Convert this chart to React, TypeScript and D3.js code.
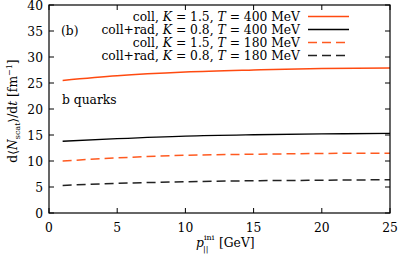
import React from 'react'
import * as d3 from 'd3'

const width = 399
const height = 255
const margin = { top: 5, right: 9, bottom: 42, left: 49 }

const pIni = [1, 5, 10, 15, 20, 25]
const collK15T400 = [25.5, 26.4, 27.1, 27.5, 27.8, 27.9]
const radK08T400 = [13.8, 14.3, 14.8, 15.05, 15.2, 15.3]
const collK15T180 = [10.0, 10.6, 11.1, 11.3, 11.45, 11.5]
const radK08T180 = [5.3, 5.7, 6.0, 6.2, 6.3, 6.4]

const xTicks = [0, 5, 10, 15, 20, 25]
const yTicks = [0, 5, 10, 15, 20, 25, 30, 35, 40]

const series = [
    { K: '1.5', T: '400', label: 'coll', values: collK15T400, color: '#ff4a10', dash: null, w: 1.5 },
    { K: '0.8', T: '400', label: 'coll+rad', values: radK08T400, color: '#000000', dash: null, w: 1.3 },
    { K: '1.5', T: '180', label: 'coll', values: collK15T180, color: '#ff5a20', dash: '9,5', w: 1.5 },
    { K: '0.8', T: '180', label: 'coll+rad', values: radK08T180, color: '#222222', dash: '9,5', w: 1.5 },
]

const font = 'DejaVu Serif, serif'
const fs = 12.3

export default function App() {
    const xScale = d3
        .scaleLinear()
        .domain([0, 25])
        .range([margin.left, width - margin.right])
    const yScale = d3
        .scaleLinear()
        .domain([0, 40])
        .range([height - margin.bottom, margin.top])

    const line = d3
        .line<[number, number]>()
        .x((d) => xScale(d[0]))
        .y((d) => yScale(d[1]))
        .curve(d3.curveMonotoneX)

    const x0 = margin.left
    const x1 = width - margin.right
    const y0 = height - margin.bottom
    const y1 = margin.top
    const tick = 5

    return (
        <svg
            width={width}
            height={height}
            style={{ position: 'absolute', left: 0, top: 0, fontFamily: font }}
        >
            <rect width={width} height={height} fill="#fff" />
            {series.map((s, i) => (
                <path
                    key={i}
                    d={line(pIni.map((p, j) => [p, s.values[j]] as [number, number])) || ''}
                    fill="none"
                    stroke={s.color}
                    strokeWidth={s.w}
                    strokeDasharray={s.dash || undefined}
                />
            ))}
            {/* frame */}
            <rect x={x0} y={y1} width={x1 - x0} height={y0 - y1} fill="none" stroke="#000" strokeWidth={1.2} />
            {xTicks.map((t) => (
                <g key={'x' + t}>
                    <line x1={xScale(t)} x2={xScale(t)} y1={y0} y2={y0 - tick} stroke="#000" />
                    <line x1={xScale(t)} x2={xScale(t)} y1={y1} y2={y1 + tick} stroke="#000" />
                    <text x={xScale(t)} y={y0 + 19} textAnchor="middle" fontSize={fs}>
                        {t}
                    </text>
                </g>
            ))}
            {yTicks.map((t) => (
                <g key={'y' + t}>
                    <line x1={x0} x2={x0 + tick} y1={yScale(t)} y2={yScale(t)} stroke="#000" />
                    <line x1={x1} x2={x1 - tick} y1={yScale(t)} y2={yScale(t)} stroke="#000" />
                    <text x={x0 - 6} y={yScale(t) + 4.5} textAnchor="end" fontSize={fs}>
                        {t}
                    </text>
                </g>
            ))}
            {/* legend */}
            {series.map((s, i) => {
                const y = 16.5 + i * 13
                return (
                    <g key={'l' + i}>
                        <text x={300} y={y + 4} textAnchor="end" fontSize={fs}>
                            {s.label}, <tspan fontStyle="italic">K</tspan> = {s.K},{' '}
                            <tspan fontStyle="italic">T</tspan> = {s.T} MeV
                        </text>
                        <line
                            x1={308}
                            x2={349}
                            y1={y}
                            y2={y}
                            stroke={s.color}
                            strokeWidth={s.w}
                            strokeDasharray={s.dash || undefined}
                        />
                    </g>
                )
            })}
            <text x={61} y={35} fontSize={fs}>
                (b)
            </text>
            <text x={62} y={104} fontSize={fs}>
                b quarks
            </text>
            {/* x axis label */}
            <g>
                <text x={196} y={247} fontSize={fs} fontStyle="italic">
                    p
                </text>
                <text x={204} y={240} fontSize={8}>
                    ini
                </text>
                <text x={203} y={252} fontSize={8}>
                    ||
                </text>
                <text x={219} y={247} fontSize={fs}>
                    [GeV]
                </text>
            </g>
            {/* y axis label */}
            <text
                transform={`translate(17, ${(y0 + y1) / 2 + 2}) rotate(-90)`}
                textAnchor="middle"
                fontSize={fs}
            >
                d⟨<tspan fontStyle="italic">N</tspan>
                <tspan fontSize={8} dy={3}>scat</tspan>
                <tspan dy={-3}>⟩/d</tspan>
                <tspan fontStyle="italic">t</tspan> [fm
                <tspan fontSize={8} dy={-5}>−1</tspan>
                <tspan dy={5}>]</tspan>
            </text>
        </svg>
    )
}
